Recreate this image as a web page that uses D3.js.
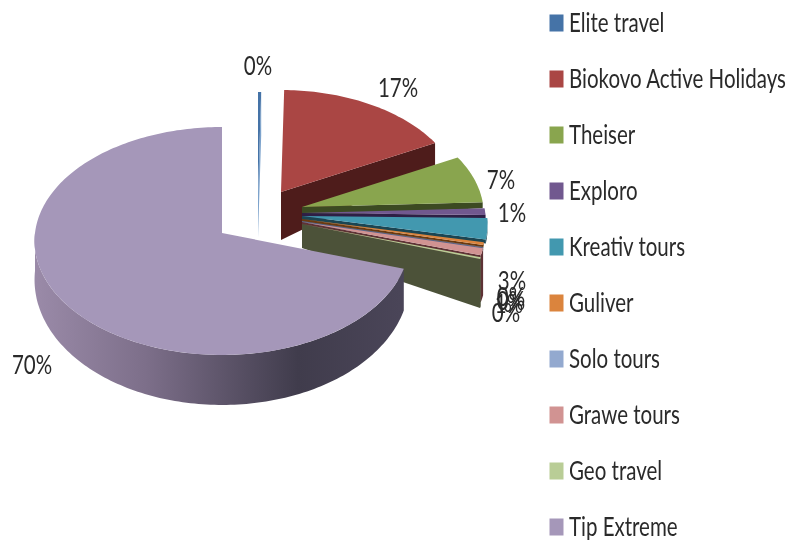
<!DOCTYPE html>
<html><head><meta charset="utf-8">
<script src="https://cdn.jsdelivr.net/npm/d3@7"></script>
<style>html,body{margin:0;background:#fff}svg{display:block;filter:blur(.6px)}text{font-family:Lato,"Open Sans",sans-serif;fill:#2a2a2a}</style>
</head><body><div id="chart"></div>
<script>
const categories=["Elite travel","Biokovo Active Holidays","Theiser","Exploro","Kreativ tours","Guliver","Solo tours","Grawe tours","Geo travel","Tip Extreme"];
const seriesValues=[0.3,17,7,1,3,0.4,0.05,1,0.25,70];
const topColors=["#4573a7","#aa4644","#89a54e","#71588f","#4298af","#db843d","#93a9cf","#d19392","#b9cd96","#a597b9"];
const sideColors=["#7da3cc","#4e1c1b","#3c4a22","#2e1f45","#1b4552","#6b3a10","#55658a","#5e3235","#4c5239","#423d4f"];
// layout: apex of each exploded slice, wall heights at apex and rim, radius factor
const apexX=[258,281,302,302,302,302,302,302,302,222];
const apexY=[194,192,207,213,216,219,221,222,224,233];
const apexH=[44,48,10,6,4,3,3,3,24,40];
const rimH=[44,22,6,5,4,3,3,47,49,40];
const radiusK=[0.96,0.96,0.97,0.98,0.99,0.98,0.98,0.98,0.98,1];
const labelX=[258,398,501,512,512,511,511,509,506,32];
const labelY=[66,88,180,213,281,297,301,304,313,365];

const W=790,H=540,R=187,A=113.4,B=0.0702;
const svg=d3.select("#chart").append("svg").attr("width",W).attr("height",H);
const defs=svg.append("defs");
const grad=defs.append("linearGradient").attr("id","tipSide").attr("gradientUnits","userSpaceOnUse")
  .attr("x1",36).attr("x2",400).attr("y1",0).attr("y2",0);
[[0,"#9a8aa8"],[0.3,"#7d6f8a"],[0.72,"#403c4c"],[1,"#4a4558"]].forEach(s=>grad.append("stop").attr("offset",s[0]).attr("stop-color",s[1]));

const pie=d3.pie().sort(null).value(d=>d)(seriesValues);
const line=d3.line().x(d=>d[0]).y(d=>d[1]);
function proj(i,a){
  const r=radiusK[i],u=Math.sin(a)*r,v=-Math.cos(a)*r,s=1/(1-B*v);
  return [apexX[i]+R*u*s,apexY[i]+A*v*s,v];
}
function samples(a0,a1){const n=Math.max(2,Math.ceil((a1-a0)/0.02));return d3.range(n+1).map(k=>a0+(a1-a0)*k/n);}
function rimHeight(i,v){return i===9?38+12*v:rimH[i];}

const marks=svg.append("g");
pie.forEach((d,i)=>{
  const g=marks.append("g");
  const a0=d.startAngle,a1=d.endAngle;
  const side=i===9?"url(#tipSide)":sideColors[i];
  const f0=Math.max(a0,Math.PI/2),f1=Math.min(a1,Math.PI*1.5);
  if(f1>f0){
    const as=samples(f0,f1),top=as.map(a=>proj(i,a));
    const bot=top.slice().reverse().map(p=>[p[0],p[1]+rimHeight(i,p[2])]);
    g.append("path").attr("d",line(top.concat(bot))+"Z").attr("fill",side);
  }
  if(i!==9){
    const p=proj(i,a1),c=[apexX[i],apexY[i]];
    g.append("path").attr("d",line([c,p,[p[0],p[1]+rimH[i]],[c[0],c[1]+apexH[i]]])+"Z").attr("fill",side);
  }
  const rim=samples(a0,a1).map(a=>proj(i,a));
  g.append("path").attr("d",line([[apexX[i],apexY[i]]].concat(rim))+"Z").attr("fill",topColors[i]);
});

const fmt=d3.format(".0%"),total=d3.sum(seriesValues);
const legY=d3.scalePoint().domain(categories).range([23,527]);
const legend=svg.append("g");
legend.selectAll("rect").data(categories).join("rect")
  .attr("x",549.5).attr("y",d=>legY(d)-8.5).attr("width",14).attr("height",17)
  .attr("fill",(d,i)=>topColors[i]);
const legText=legend.selectAll("text").data(categories).join("text")
  .attr("font-size",26).attr("dy","0.33em").text(d=>d);
const widest=d3.max(legText.nodes(),n=>n.getComputedTextLength());
const sx=217/widest;
legText.attr("transform",d=>`translate(569,${legY(d)}) scale(${sx},1)`);
svg.append("g").selectAll("text").data(seriesValues).join("text")
  .attr("font-size",26).attr("dy","0.33em").attr("text-anchor","middle")
  .attr("transform",(d,i)=>`translate(${labelX[i]},${labelY[i]}) scale(${sx},1)`)
  .text(d=>fmt(d/total));
</script></body></html>
